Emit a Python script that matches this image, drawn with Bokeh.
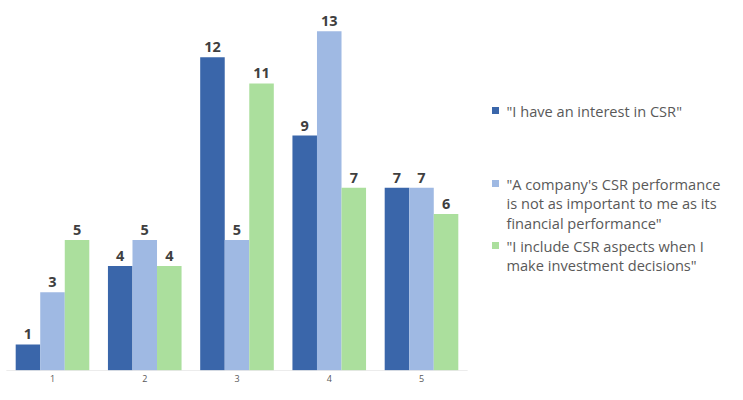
from bokeh.plotting import figure
from bokeh.models import Range1d, FixedTicker, ColumnDataSource
from bokeh.core.properties import value
from bokeh.embed import file_html
from bokeh.resources import INLINE

categories = [1, 2, 3, 4, 5]
tick_labels = ["1", "2", "3", "4", "5"]
series_names = [
    "\"I have an interest in CSR\"",
    "\"A company's CSR performance is not as important to me as its financial performance\"",
    "\"I include CSR aspects when I make investment decisions\"",
]
interest = [1, 4, 12, 9, 7]
not_important = [3, 5, 5, 13, 7]
include = [5, 4, 11, 7, 6]
colors = ["#3A66AA", "#9FB9E3", "#ABDF9D"]

# legend text lines (wrapped as in the reference)
legend_lines = [
    ["\"I have an interest in CSR\""],
    ["\"A company's CSR performance", "is not as important to me as its", "financial performance\""],
    ["\"I include CSR aspects when I", "make investment decisions\""],
]

W, H = 727, 384
FRAME_H = 370
PX_X = 92.25
PX_Y = (FRAME_H - 30.7) / 13
p = figure(width=W, height=H, output_backend="svg", toolbar_location=None,
           x_range=Range1d(1 - 52 / PX_X, 1 - 52 / PX_X + W / PX_X),
           y_range=Range1d(0, FRAME_H / PX_Y),
           min_border_left=0, min_border_right=0, min_border_top=0,
           min_border_bottom=0)
p.extra_x_ranges = {"px": Range1d(0, W)}
p.extra_y_ranges = {"px": Range1d(FRAME_H, 0)}
p.outline_line_color = None
p.grid.visible = False
p.yaxis.visible = False
p.xaxis.ticker = FixedTicker(ticks=categories)
p.xaxis.major_label_overrides = {c: t for c, t in zip(categories, tick_labels)}
p.xaxis.axis_line_color = None
p.xaxis.major_tick_line_color = None
p.xaxis.minor_tick_line_color = None
p.xaxis.major_tick_out = 0
p.xaxis.major_label_standoff = 4
p.xaxis.major_label_text_font = "Open Sans"
p.xaxis.major_label_text_font_size = "9px"
p.xaxis.major_label_text_color = "#595959"

bw = 0.266
offsets = [-bw, 0.0, bw]
for vals, off, col in zip([interest, not_important, include], offsets, colors):
    xs = [c + off for c in categories]
    src = ColumnDataSource(dict(x=xs, top=vals, lab=[str(v) for v in vals]))
    p.vbar(x="x", top="top", bottom=0, width=bw, source=src,
           fill_color=col, line_color=None)
    p.text(x="x", y="top", text="lab", source=src, text_align="center",
           text_baseline="bottom", y_offset=-5, text_font=value("Open Sans"),
           text_font_style="bold", text_font_size="14.5px", text_color="#3F3F3F")

# baseline
p.segment(x0=[categories[0] - 0.5], x1=[categories[-1] + 0.5], y0=[0], y1=[0],
          line_color="#D9D9D9", line_width=1.2)

# legend (pixel coordinates)
sq_x = 495
txt_x = 506
first_line_y = [110, 183, 245]
line_gap = 19.6
for i, (lines, col) in enumerate(zip(legend_lines, colors)):
    y0 = first_line_y[i]
    p.rect(x=[sq_x], y=[y0], width=7, height=7, fill_color=col, line_color=None,
           x_range_name="px", y_range_name="px")
    ys = [y0 + k * line_gap for k in range(len(lines))]
    p.text(x=[txt_x] * len(lines), y=ys, text=lines, x_range_name="px",
           y_range_name="px", text_align="left", text_baseline="middle",
           text_font=value("Open Sans"), text_font_size="14.6px",
           text_color="#595959")

open("out.html", "w").write(file_html(p, INLINE))
